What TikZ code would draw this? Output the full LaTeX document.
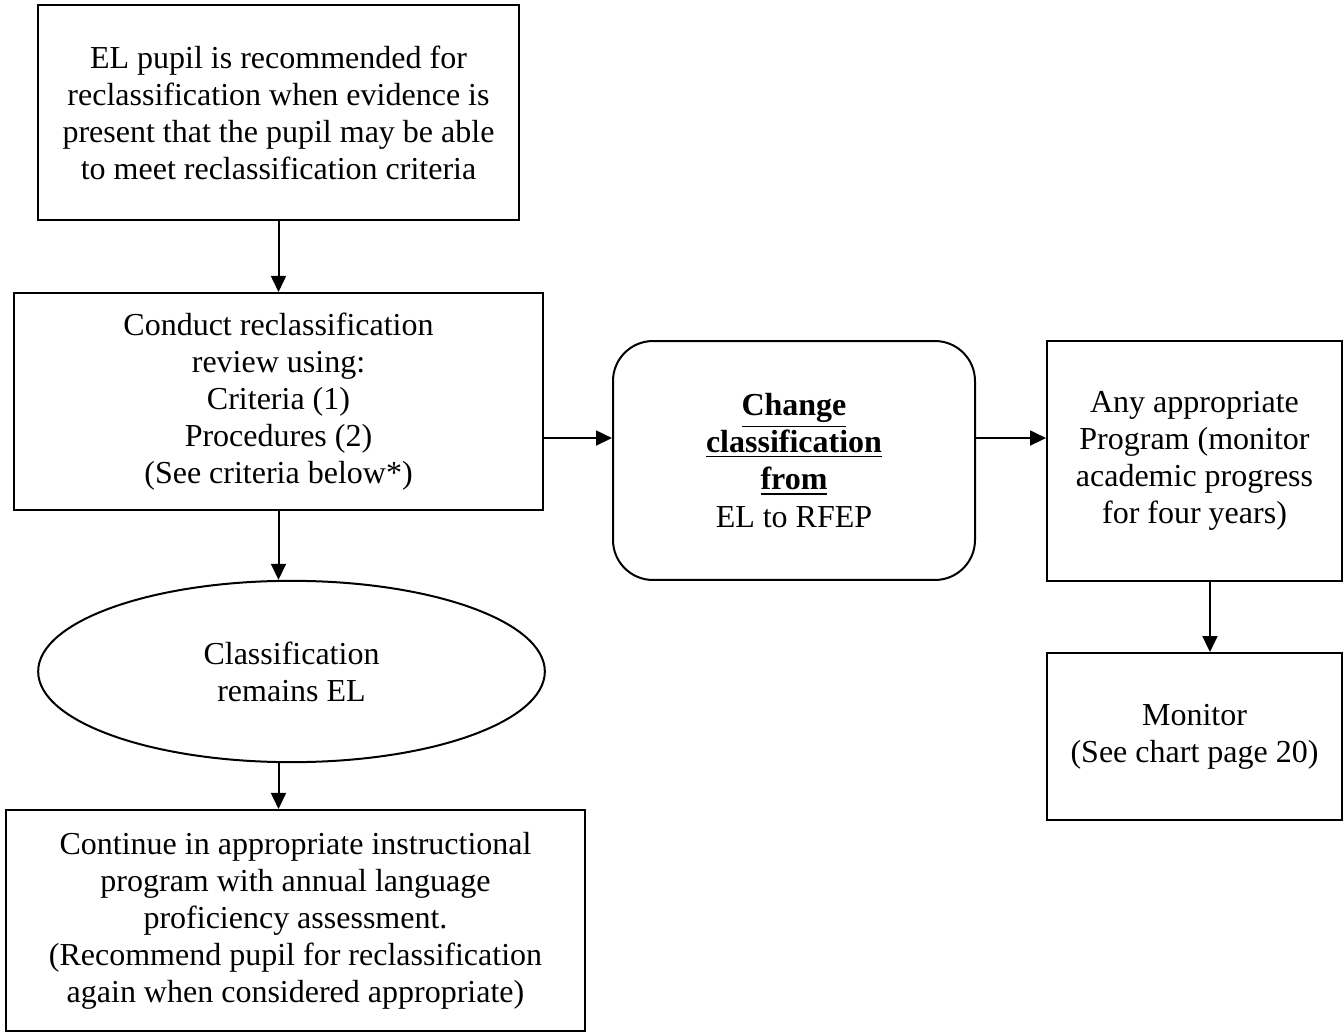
\documentclass[tikz,border=0pt]{standalone}
\usepackage{fontspec}
\setmainfont{Liberation Serif}
\usepackage{tikz}
\usetikzlibrary{arrows.meta,positioning,calc,shapes.geometric}
\tikzset{
  >={Triangle[length=6pt,width=5.6pt]},
  every picture/.append style={line width=0.75pt},
  every node/.append style={font=\fontsize{12}{13.9}\selectfont},
}
\tikzset{
  box/.style={draw, align=center, inner sep=3pt},
  roundbox/.style={draw, rounded corners=15pt, align=center, inner sep=3pt},
  oval/.style={draw, ellipse, align=center, inner sep=0pt},
  arrow/.style={->, line width=0.75pt}
}

\begin{document}
\begin{tikzpicture}[x=0.375pt, y=-0.375pt]

\useasboundingbox (0,0) rectangle (1344,1034);

% --- Left column ---
\node[box, minimum width=180.4pt, minimum height=80.6pt] (recommend) at (278.5,112.5) {%
  EL pupil is recommended for\\
  reclassification when evidence is\\
  present that the pupil may be able\\
  to meet reclassification criteria
};
\node[box, minimum width=198.4pt, minimum height=81.4pt] (review) at (278.5,401.5) {%
  Conduct reclassification\\
  review using:\\
  Criteria (1)\\
  Procedures (2)\\
  (See criteria below*)
};
\node[oval, minimum width=190pt, minimum height=68pt] (remains) at (291.5,671.5) {%
  Classification\\
  remains EL
};
\node[box, minimum width=217pt, minimum height=82.9pt] (continue) at (295.5,920.5) {%
  Continue in appropriate instructional\\
  program with annual language\\
  proficiency assessment.\\
  (Recommend pupil for reclassification\\
  again when considered appropriate)
};

% --- Middle and right column ---
\node[roundbox, minimum width=135.75pt, minimum height=89.6pt] (change) at (794,460.5) {%
  \underline{\textbf{Change}}\\
  \underline{\textbf{classification}}\\
  \underline{\textbf{from}}\\
  EL to RFEP
};
\node[box, minimum width=110.6pt, minimum height=90pt] (program) at (1194.5,461) {%
  Any appropriate\\
  Program (monitor\\
  academic progress\\
  for four years)
};
\node[box, minimum width=110.6pt, minimum height=62.6pt] (monitor) at (1194.5,736.5) {%
  Monitor\\
  (See chart page 20)
};

% --- Arrows ---
\draw[arrow] (recommend.south) -- (review.north);
\draw[arrow] (review.south) -- (review.south |- remains.north);
\draw[arrow] (review.south |- remains.south) -- (review.south |- continue.north);
\draw[arrow] ([yshift=-13.7pt]review.east) -- ([yshift=-13.7pt]review.east -| change.west);
\draw[arrow] ([yshift=-13.7pt]review.east -| change.east) -- ([yshift=-13.7pt]review.east -| program.west);
\draw[arrow] ([xshift=5.8pt]program.south) -- ([xshift=5.8pt]program.south |- monitor.north);

\end{tikzpicture}
\end{document}
